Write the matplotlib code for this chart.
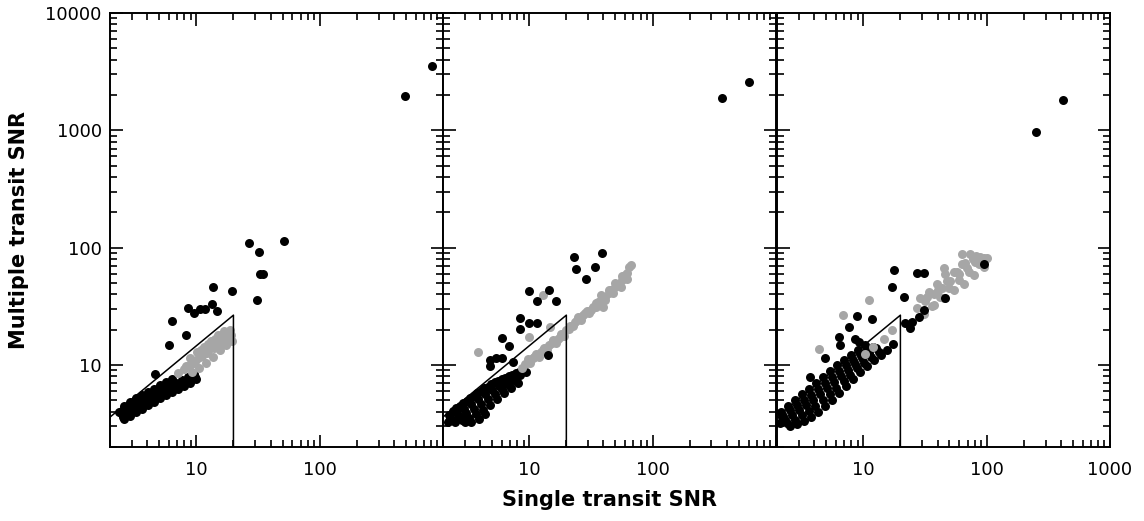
import numpy as np
import matplotlib
matplotlib.use("Agg")
import matplotlib.pyplot as plt
from matplotlib.ticker import LogLocator, NullFormatter

# ---- data (single transit SNR, multiple transit SNR) ----

# threshold line drawn in every panel
line_x = [2, 20, 20]
line_y = [3.6, 26.6, 2]

# panel 1
p1_band_x = [2.50, 2.80, 3.13, 3.50, 3.92, 4.38, 4.90, 5.48, 6.13, 6.85, 7.66, 8.57, 9.59,
             2.60, 2.91, 3.25, 3.63, 4.06, 4.55, 5.08, 5.69, 6.36,
             2.55, 2.85, 3.19, 3.56, 3.99, 4.46, 4.99, 5.58, 6.24,
             2.55, 2.85, 3.19, 3.56, 3.99, 4.46, 4.99, 5.58, 6.24, 6.98, 7.81, 8.73, 9.77,
             2.60, 2.91, 3.25, 3.63, 4.06, 4.55, 5.08, 5.69, 6.36, 7.11, 7.96, 8.90, 9.95,
             2.37]
p1_band_y = [3.82, 4.13, 4.47, 4.74, 5.12, 5.43, 5.88, 6.23, 6.61, 7.01, 7.43, 7.89, 8.36,
             4.47, 4.83, 5.22, 5.54, 5.88, 6.23, 6.74, 7.15, 7.58,
             4.15, 4.48, 4.85, 5.14, 5.50, 5.83, 6.31, 6.69, 7.10,
             3.64, 3.90, 4.22, 4.48, 4.84, 5.13, 5.55, 5.88, 6.24, 6.62, 7.02, 7.45, 7.97,
             3.46, 3.67, 3.97, 4.21, 4.56, 4.83, 5.22, 5.54, 5.88, 6.23, 6.61, 7.01, 7.58,
             3.97]
p1_gray_x = [7.11, 7.96, 8.90, 9.95, 11.1, 12.4, 13.9, 15.6, 17.4, 19.1,
             8.90, 10.1, 11.6, 13.2, 15.0, 16.8, 18.8,
             9.24, 10.5, 12.0, 13.7, 15.6, 17.4, 19.5,
             8.3, 9.5, 10.8, 12.3, 13.8, 15.4, 17.1, 18.9, 11.0, 12.5, 14.2, 16.0, 17.9]
p1_gray_y = [8.53, 9.22, 9.97, 11.0, 11.9, 13.1, 14.5, 15.7, 16.9, 18.0,
             11.4, 12.9, 14.2, 16.0, 18.0, 19.4, 20.0,
             8.70, 9.40, 10.4, 11.7, 13.4, 14.8, 16.0,
             9.8, 10.5, 11.7, 12.6, 13.9, 15.3, 16.5, 17.4, 13.5, 15.0, 16.6, 17.9, 19.0]
p1_dots_x = [26.7, 32.2, 51, 33, 35, 31, 13.7, 19.5, 13.4, 8.6, 9.6, 10.7, 11.8, 14.7,
             6.4, 8.3, 6.0, 4.63, 490, 810]
p1_dots_y = [109, 91, 113, 60, 60, 36, 46, 43, 33, 30.5, 27.6, 30, 30, 29,
             23.6, 18, 14.8, 8.36, 1980, 3570]

# panel 2
p2_band_x = [2.24, 2.55, 2.91, 3.31, 3.77, 4.30, 4.90, 5.58, 6.36, 7.25, 8.26,
             2.42, 2.76, 3.14, 3.57, 4.07, 4.64, 5.29, 6.03, 6.80, 7.83,
             2.28, 2.60, 2.96, 3.37, 3.84, 4.38, 4.99, 5.69, 6.48, 7.38, 8.41, 9.41,
             2.39, 2.73, 3.10, 3.54, 4.03, 4.60, 5.24, 5.97, 6.80, 7.75,
             2.50, 2.85, 3.25, 3.70, 4.22, 4.81, 5.48, 6.24, 7.11, 8.11,
             2.2, 3.0, 3.4, 3.9, 4.4]
p2_band_y = [3.75, 4.30, 4.75, 5.20, 5.75, 6.35, 6.90, 7.35, 7.80, 8.30, 8.80,
             4.02, 4.48, 4.93, 5.43, 6.00, 6.51, 7.13, 7.58, 8.05, 8.50,
             3.53, 3.89, 4.21, 4.65, 5.12, 5.65, 6.11, 6.61, 7.15, 7.73, 8.20, 8.70,
             3.40, 3.64, 3.87, 4.24, 4.63, 5.11, 5.62, 6.19, 6.76, 7.37,
             3.26, 3.39, 3.53, 3.82, 4.13, 4.56, 5.12, 5.76, 6.36, 7.01,
             3.3, 3.25, 3.3, 3.5, 3.8]
p2_gray_x = [3.84, 9.95, 14.7, 12.9,
             9.18, 10.7, 12.5, 14.6, 17.1, 20.0, 23.3, 27.3, 31.8, 36.1, 40.8, 46.2, 52.4, 59.4, 67.1,
             9.8, 11.4, 13.3, 15.5, 18.2, 21.5, 25, 29.5, 34.5, 38, 44, 50, 56, 64,
             8.8, 10.2, 12.0, 14.0, 16.5, 19.0, 22.5, 26.5, 30.5, 35, 39.6, 41, 48, 55, 62,
             11.0, 13.0, 15.2, 17.8, 21, 24.5, 28.5, 33, 38, 44, 50, 57, 62]
p2_gray_y = [12.9, 17.3, 21.0, 39.3,
             10.3, 11.4, 12.9, 14.8, 16.8, 19.8, 23.3, 26.6, 29.3, 34.5, 38.0, 43.4, 49.4, 58.2, 70.8,
             11.3, 12.4, 14.1, 16.2, 18.3, 21.7, 25.5, 29, 34, 39.5, 44, 49.8, 57, 68,
             9.5, 10.5, 11.8, 13.5, 15.4, 17.8, 21.3, 24.0, 27.5, 31.5, 31.3, 36, 41, 46, 54,
             11.8, 13.3, 15.3, 17.4, 20.3, 24, 27.8, 31.5, 35.5, 41, 46.5, 53, 61]
p2_dots_x = [23.1, 38.9, 23.9, 34.1, 28.8, 9.95, 14.5, 11.6, 16.5, 8.41, 9.95, 11.6,
             8.41, 6.01, 6.85, 4.81, 5.38, 6.01, 4.81, 7.38, 14.2, 365, 604]
p2_dots_y = [82.8, 89.6, 65.5, 68.1, 53.8, 42.5, 43.4, 35.0, 35.0, 25.1, 22.7, 22.7,
             20.2, 16.9, 14.5, 11.0, 11.4, 11.4, 9.78, 10.6, 12.1, 1870, 2560]

# panel 3
p3_band_x = [2.15, 2.46, 2.80, 3.19, 3.63, 4.14, 4.72, 5.38, 6.13, 6.98, 7.96, 9.07, 10.3,
             2.23, 2.55, 2.91, 3.31, 3.77, 4.30, 4.90, 5.58, 6.36, 7.25, 8.26, 9.41, 10.7, 12.0,
             2.32, 2.65, 3.02, 3.44, 3.92, 4.46, 5.08, 5.79, 6.60, 7.52, 8.57, 9.77, 11.1, 12.7,
             2.43, 2.78, 3.16, 3.60, 4.10, 4.68, 5.33, 6.07, 6.92, 7.88, 8.98, 10.2, 11.6, 13.3,
             2.55, 2.91, 3.31, 3.77, 4.30, 4.90, 5.58, 6.36, 7.25, 8.26, 9.41, 10.7, 12.2, 13.9,
             2.1, 2.2, 15.5, 17.5]
p3_band_y = [3.97, 4.47, 5.02, 5.65, 6.23, 7.01, 7.89, 8.87, 9.97, 11.0, 12.1, 13.4, 14.8,
             3.67, 4.10, 4.55, 5.07, 5.60, 6.30, 7.08, 7.96, 8.95, 9.97, 11.1, 12.4, 13.6, 14.3,
             3.39, 3.75, 4.13, 4.55, 5.02, 5.65, 6.36, 7.15, 8.04, 9.04, 10.2, 11.4, 12.6, 13.9,
             3.20, 3.43, 3.72, 4.05, 4.47, 5.02, 5.65, 6.42, 7.30, 8.28, 9.42, 10.5, 11.8, 13.0,
             3.02, 3.14, 3.33, 3.60, 3.97, 4.47, 5.02, 5.76, 6.61, 7.58, 8.70, 9.78, 11.0, 12.1,
             3.2, 3.6, 13.3, 15.0]
p3_gray_x = [11.1, 6.85, 4.36, 12.1, 14.6, 17.1, 10.4,
             27.3, 31.8, 37.2, 43.5, 50.8, 59.4, 69.3, 80.9, 94.6, 100,
             29.0, 33.9, 39.6, 46.2, 44.9, 54.1, 63.1, 72.9, 82.4, 63.1,
             30.9, 37.2, 44.9, 54.1, 65.2, 78.5, 94.6,
             33, 40, 48, 57, 67, 78, 88, 36, 42, 50, 60, 72, 86]
p3_gray_y = [36.1, 26.6, 13.8, 14.3, 16.8, 19.8, 12.5,
             30.9, 35.2, 40.1, 45.7, 52.1, 59.4, 67.6, 75.5, 82.4, 82,
             36.9, 42.0, 49.4, 60.1, 67.6, 62.1, 89.0, 89.0, 84.4, 73.2,
             27.1, 32.3, 36.9, 43.4, 49.4, 58.2, 68.5,
             38, 44, 52, 62, 74, 80, 84, 32, 38, 45, 53, 62, 72]
p3_dots_x = [17.6, 27.3, 30.9, 17.1, 21.3, 8.90, 11.8, 7.62, 6.32, 6.52, 8.62, 9.18,
             4.93, 3.68, 46.2, 94.6, 21.9, 24.8, 28.1, 30.9, 24.1, 251, 416]
p3_dots_y = [64.2, 60.9, 60.9, 46.3, 38.0, 26.1, 24.9, 21.1, 17.4, 14.8, 16.8, 15.7,
             11.4, 7.93, 36.9, 73.2, 22.6, 23.3, 25.7, 29.3, 20.5, 960, 1830]

band_x = [p1_band_x, p2_band_x, p3_band_x]
band_y = [p1_band_y, p2_band_y, p3_band_y]
gray_x = [p1_gray_x, p2_gray_x, p3_gray_x]
gray_y = [p1_gray_y, p2_gray_y, p3_gray_y]
dots_x = [p1_dots_x, p2_dots_x, p3_dots_x]
dots_y = [p1_dots_y, p2_dots_y, p3_dots_y]

x_ticks = [10, 100, 1000]
x_labels = [["10", "100", ""], ["10", "100", ""], ["10", "100", "1000"]]
y_ticks = [10, 100, 1000, 10000]
y_labels = ["10", "100", "1000", "10000"]

# ---- figure ----
plt.rcParams['font.family'] = 'DejaVu Sans'
fig = plt.figure(figsize=(11.44, 5.21), dpi=100)
lefts = [0.0962, 0.3872, 0.6792]
ms = 42

for i in range(3):
    ax = fig.add_axes([lefts[i], 0.142, 0.2911, 0.833])
    ax.set_xscale('log')
    ax.set_yscale('log')

    ax.scatter(band_x[i], band_y[i], s=ms, c='black', marker='o', linewidths=0, zorder=2)
    ax.scatter(gray_x[i], gray_y[i], s=ms, c='#a6a6a6', marker='o', linewidths=0, zorder=3)
    ax.scatter(dots_x[i], dots_y[i], s=ms, c='black', marker='o', linewidths=0, zorder=4)
    ax.plot(line_x, line_y, color='black', lw=1.1, zorder=5)

    ax.set_xlim(2, 1000)
    ax.set_ylim(2, 10000)

    ax.set_xticks(x_ticks)
    ax.set_xticklabels(x_labels[i])
    ax.xaxis.set_minor_locator(LogLocator(base=10, subs=np.arange(2, 10)))
    ax.xaxis.set_minor_formatter(NullFormatter())
    ax.set_yticks(y_ticks)
    if i == 0:
        ax.set_yticklabels(y_labels)
    else:
        ax.set_yticklabels([])
    ax.yaxis.set_minor_locator(LogLocator(base=10, subs=np.arange(2, 10)))
    ax.yaxis.set_minor_formatter(NullFormatter())

    ax.tick_params(which='both', direction='in', top=True, right=True, width=1.2, labelsize=13)
    ax.tick_params(which='major', length=9)
    ax.tick_params(which='minor', length=5)
    ax.tick_params(axis='x', pad=10)
    ax.tick_params(axis='y', pad=6)
    for sp in ax.spines.values():
        sp.set_linewidth(1.4)

    if i == 0:
        ax.set_ylabel("Multiple transit SNR", fontsize=15, fontweight='bold', labelpad=12)
    if i == 1:
        ax.set_xlabel("Single transit SNR", fontsize=15, fontweight='bold', labelpad=8)

fig.savefig("out.png", dpi=100)
